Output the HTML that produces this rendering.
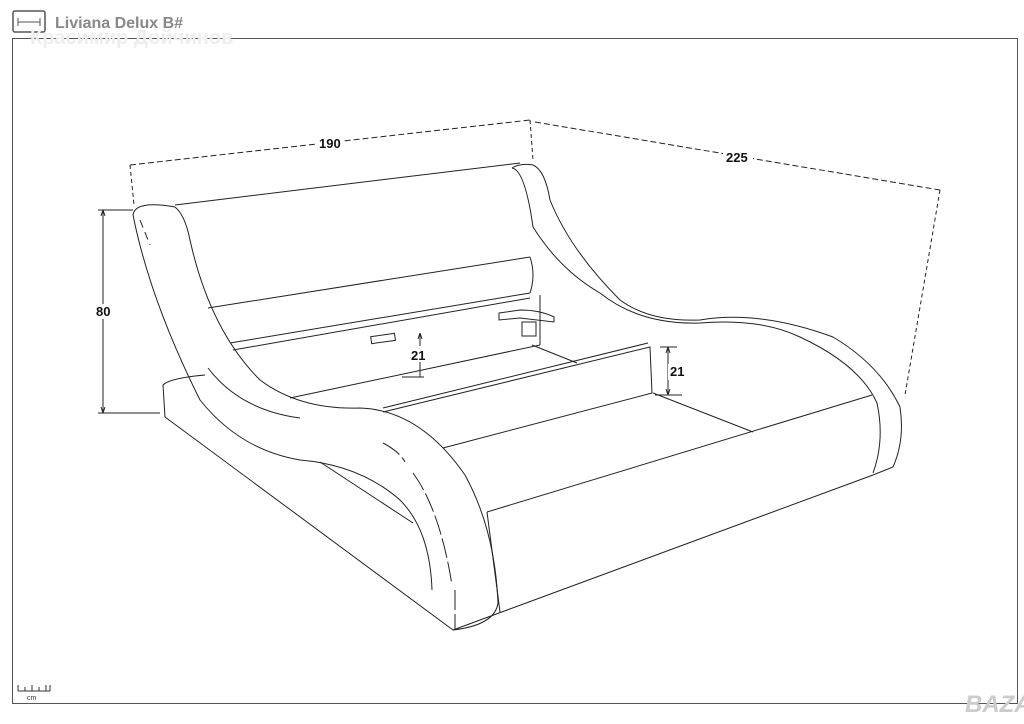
<!DOCTYPE html>
<html><head><meta charset="utf-8"><style>
body{margin:0;background:#fff;width:1024px;height:724px;overflow:hidden}
svg{display:block}
text{font-family:"Liberation Sans",sans-serif}
</style></head><body>
<svg width="1024" height="724" viewBox="0 0 1024 724" xmlns="http://www.w3.org/2000/svg">
<g fill="none" stroke="#222" stroke-width="1">
<rect x="12.5" y="38.5" width="1005" height="665" stroke="#555"/>
<rect x="13" y="11" width="32" height="21" rx="2" stroke="#555" stroke-width="1.5"/>
<path d="M18 22h22M18 18v8M40 18v8" stroke="#555"/>
<path d="M18 691h32M18 685v6M25 687v4M32 685v6M39 687v4M46 685v6M50 685v6" stroke="#333"/>

<path d="M130 165L530 120" stroke-dasharray="6,3"/>
<path d="M130 165L134 205M530 120L533 160" stroke-dasharray="4,3"/>
<path d="M535 122L940 190" stroke-dasharray="6,3"/>
<path d="M940 190L905 395" stroke-dasharray="4,3"/>
<path d="M103 210V413M98 210h35M98 413h62"/>
<path d="M103 210l-2 6M103 210l2 6M103 413l-2 -6M103 413l2 -6"/>

<path d="M205 375Q170 378 163 385L165 417L453 630"/>
<path d="M453 630L873 475"/>
<path d="M175 207Q135 200 133 215Q150 300 200 400Q240 450 300 460Q360 465 400 500Q430 530 432 590"/>
<path d="M175 207Q185 215 190 240Q210 330 260 380Q300 410 360 408Q420 410 465 475Q495 530 498 603Q495 625 453 630"/>
<path d="M140 220L150 245" stroke-dasharray="8,5"/>
<path d="M208 368Q240 410 300 418"/>
<path d="M383 443Q400 452 405 462M413 473Q440 510 452 585M455 590v40" stroke-dasharray="20,4"/>
<path d="M320 462L413 523"/>

<path d="M175 205L520 163"/>
<path d="M208 308L530 257"/>
<path d="M230 343L530 293M233 350L530 298"/>
<path d="M530 257Q536 275 530 293"/>
<path d="M290 398L540 345"/>
<path d="M540 345V295"/>
<path d="M512 168Q520 163 533 165Q545 170 550 200Q570 250 620 300Q650 322 700 320Q760 310 833 337Q880 365 900 407Q905 440 893 467L873 475"/>
<path d="M512 168Q525 170 533 227Q560 270 600 293Q640 325 700 323Q760 318 800 337Q860 365 877 403Q885 440 873 473"/>
<path d="M383 412L650 347L652 393L443 448"/>
<path d="M383 408L648 343"/>
<path d="M532 345L577 363M653 393L753 432"/>
<path d="M487 512L872 395"/>
<path d="M487 512L500 612"/>
<rect x="371" y="335" width="24" height="7" transform="rotate(-8 383 338)"/>
<path d="M499 313L520 310Q540 310 554 317V322L520 318L499 320Z"/>
<rect x="522" y="322" width="14" height="14"/>
<path d="M420 333V377M402 377h22"/>
<path d="M420 333l-2 6M420 333l2 6"/>
<path d="M668 347V395M660 347h17M655 395h27"/>
<path d="M668 347l-2 6M668 347l2 6M668 395l-2 -6M668 395l2 -6"/>
</g>
<g fill="#fff">
<rect x="316" y="136" width="28" height="15"/>
<rect x="723" y="150" width="30" height="15"/>
<rect x="94" y="304" width="20" height="15"/>
<rect x="409" y="346" width="20" height="16"/>
<rect x="668" y="364" width="20" height="16"/>
</g>
<g font-weight="bold" font-size="13" fill="#111">
<text x="319" y="148">190</text>
<text x="726" y="162">225</text>
<text x="96" y="316">80</text>
<text x="411" y="360">21</text>
<text x="670" y="376">21</text>
</g>
<text x="30" y="44" font-size="20" fill="#eee" font-weight="bold">Красимир Дойчинов</text>
<text x="55" y="28" font-size="16" fill="#888" font-weight="bold">Liviana Delux B#</text>
<text x="27" y="700" font-size="7" fill="#333">cm</text>
<text x="965" y="712" font-size="24" fill="#ccc" font-weight="bold" font-style="italic">BAZAR</text>
</svg>
</body></html>
